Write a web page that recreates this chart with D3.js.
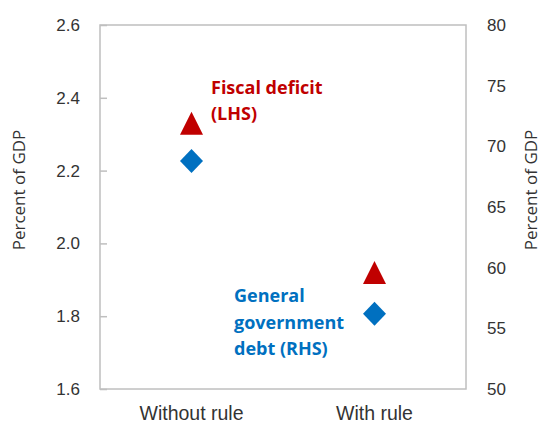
<!DOCTYPE html>
<html><head><meta charset="utf-8">
<script src="https://cdn.jsdelivr.net/npm/d3@7"></script>
<style>body{margin:0;background:#fff}svg{display:block}</style>
</head><body>
<script>
const categories = ["Without rule", "With rule"];
const fiscalDeficit = [2.33, 1.92];      // LHS
const generalDebt = [68.8, 56.2];         // RHS
const leftTicks = [1.6, 1.8, 2.0, 2.2, 2.4, 2.6];
const rightTicks = [50, 55, 60, 65, 70, 75, 80];

const W = 542, H = 425;
const m = {left: 100, right: 76, top: 25, bottom: 36};
const svg = d3.select("body").append("svg").attr("width", W).attr("height", H)
  .style("font-family", "'Open Sans', 'Noto Sans', sans-serif");

const x = d3.scaleBand().domain(categories).range([m.left, W - m.right]);
const yL = d3.scaleLinear().domain([1.6, 2.6]).range([H - m.bottom, m.top]);
const yR = d3.scaleLinear().domain([50, 80]).range([H - m.bottom, m.top]);
const textCol = "#333";

// frame
svg.append("rect").attr("x", m.left).attr("y", m.top)
  .attr("width", W - m.left - m.right).attr("height", H - m.top - m.bottom)
  .attr("fill", "none").attr("stroke", "#bfbfbf").attr("stroke-width", 1.5);

// left axis
const gL = svg.append("g").attr("transform", `translate(${m.left},0)`)
  .call(d3.axisLeft(yL).tickValues(leftTicks).tickFormat(d3.format(".1f")).tickSizeInner(-7).tickSizeOuter(0).tickPadding(20));
gL.select(".domain").remove();
gL.selectAll(".tick line").attr("stroke", "#bfbfbf").attr("stroke-width", 1.5);
gL.selectAll(".tick text").attr("fill", textCol).style("font-size", "17px");

// right axis
const gR = svg.append("g").attr("transform", `translate(${W - m.right},0)`)
  .call(d3.axisRight(yR).tickValues(rightTicks).tickSize(0).tickPadding(21));
gR.select(".domain").remove();
gR.selectAll(".tick text").attr("fill", textCol).style("font-size", "17px");

// bottom category labels
const gB = svg.append("g").attr("transform", `translate(0,${H - m.bottom})`)
  .call(d3.axisBottom(x).tickSize(0).tickPadding(0));
gB.select(".domain").remove();
gB.selectAll(".tick text").attr("fill", textCol).style("font-size", "19.5px")
  .attr("dy", null).attr("y", 31);

// axis titles
svg.append("text").attr("transform", `translate(25,190) rotate(-90)`)
  .attr("text-anchor", "middle").attr("fill", textCol).style("font-size", "17px").text("Percent of GDP");
svg.append("text").attr("transform", `translate(537,190) rotate(-90)`)
  .attr("text-anchor", "middle").attr("fill", textCol).style("font-size", "17px").text("Percent of GDP");

const cx = d => x(d) + x.bandwidth() / 2;
// triangles (fiscal deficit)
svg.selectAll(".tri").data(categories).enter().append("path")
  .attr("d", "M0,-11.5L11.5,11.5L-11.5,11.5Z")
  .attr("transform", (d, i) => `translate(${cx(d)},${yL(fiscalDeficit[i])})`)
  .attr("fill", "#c00000");
// diamonds (debt)
svg.selectAll(".dia").data(categories).enter().append("path")
  .attr("d", "M0,-12L11.5,0L0,12L-11.5,0Z")
  .attr("transform", (d, i) => `translate(${cx(d)},${yR(generalDebt[i])})`)
  .attr("fill", "#0070c0");

// annotations
const ann1 = svg.append("text").attr("fill", "#c00000").style("font-size", "18px").style("font-weight", "bold");
["Fiscal deficit", "(LHS)"].forEach((t, i) => ann1.append("tspan").attr("x", 211).attr("y", 94 + i * 26).text(t));
const ann2 = svg.append("text").attr("fill", "#0070c0").style("font-size", "18px").style("font-weight", "bold");
["General", "government", "debt (RHS)"].forEach((t, i) => ann2.append("tspan").attr("x", 234).attr("y", 302 + i * 26.5).text(t));
</script>
</body></html>
